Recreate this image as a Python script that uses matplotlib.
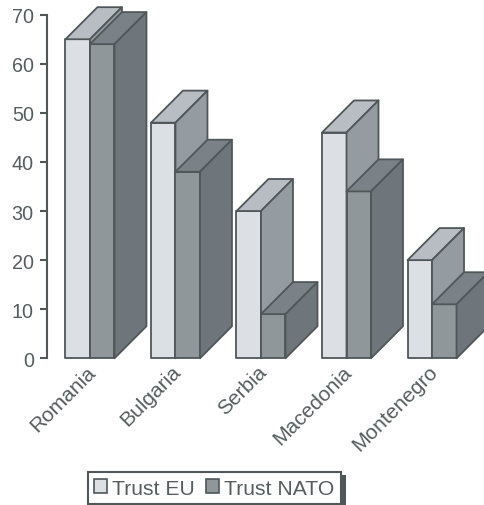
import matplotlib
matplotlib.use("Agg")
import matplotlib.pyplot as plt
from matplotlib.patches import Patch, Rectangle
from matplotlib.transforms import ScaledTranslation

countries = ["Romania", "Bulgaria", "Serbia", "Macedonia", "Montenegro"]
trust_eu = [65, 48, 30, 46, 20]
trust_nato = [64, 38, 9, 34, 11]
y_ticks = [0, 10, 20, 30, 40, 50, 60, 70]

INK = "#4f5759"
TEXT = "#565d5f"
EU_COLORS = ("#dcdfe4", "#b8bdc4", "#949ca1")    # front, top, side
NATO_COLORS = ("#8f979b", "#7a8287", "#6e757b")

BAR_W = 0.2865
DEPTH_X = 0.374
DEPTH_Y = 6.53

plt.rcParams["font.family"] = ["Liberation Sans", "DejaVu Sans"]

W, H = 485, 506
fig = plt.figure(figsize=(W / 100, H / 100), dpi=100)
ax = fig.add_axes([47 / W, 1 - 359.3 / H, (W - 47) / W, 343.6 / H])
ax.set_xlim(-0.216, 4.906)
ax.set_ylim(0, 70)


def draw_box(x, value, colors, z):
    # side first, then top and front, so shared edges stay clean
    side = [(x + BAR_W, 0), (x + BAR_W + DEPTH_X, DEPTH_Y),
            (x + BAR_W + DEPTH_X, value + DEPTH_Y), (x + BAR_W, value)]
    top = [(x, value), (x + DEPTH_X, value + DEPTH_Y),
           (x + BAR_W + DEPTH_X, value + DEPTH_Y), (x + BAR_W, value)]
    front = [(x, 0), (x + BAR_W, 0), (x + BAR_W, value), (x, value)]
    for pts, col in zip((front, top, side), colors):
        ax.fill(*zip(*pts), facecolor=col, edgecolor=INK, linewidth=1.3,
                joinstyle="round", clip_on=False, zorder=z)


for i in range(len(countries)):
    draw_box(i, trust_eu[i], EU_COLORS, 3 + i * 2)
    draw_box(i + BAR_W, trust_nato[i], NATO_COLORS, 4 + i * 2)

for side in ("top", "right", "bottom"):
    ax.spines[side].set_visible(False)
ax.spines["left"].set_color(INK)
ax.spines["left"].set_linewidth(1.5)
ax.spines["left"].set_bounds(0, 70)

ax.set_yticks(y_ticks)
ax.tick_params(axis="y", length=5, width=1.5, color=INK, labelcolor=TEXT,
               labelsize=14.2, pad=4.5)
ax.set_xticks([i + BAR_W for i in range(len(countries))])
ax.set_xticklabels(countries, rotation=45, ha="right", rotation_mode="anchor",
                   color=TEXT, fontsize=15)
ax.tick_params(axis="x", length=0, pad=2.5)
# nudge the slanted labels towards the bars
nudge = ScaledTranslation(-3.2 / 72, 0, fig.dpi_scale_trans)
for lab in ax.get_xticklabels():
    lab.set_transform(lab.get_transform() + nudge)

# legend box with a hard offset shadow on its right edge
fig.add_artist(Rectangle((92 / W, 0), 254 / W, 1 - 476 / H, transform=fig.transFigure,
                         facecolor=INK, edgecolor="none", zorder=8))
handles = [Patch(facecolor=EU_COLORS[0], edgecolor=INK, linewidth=1.2, label="Trust EU"),
           Patch(facecolor=NATO_COLORS[0], edgecolor=INK, linewidth=1.2, label="Trust NATO")]
leg = fig.legend(handles=handles, ncol=2, loc="lower left",
                 bbox_to_anchor=(88 / W, 1 - 505 / H), bbox_transform=fig.transFigure,
                 frameon=True, fancybox=False, framealpha=1, facecolor="white",
                 edgecolor=INK, fontsize=15.2, labelcolor=TEXT, borderaxespad=0,
                 handlelength=0.62, handleheight=0.62, handletextpad=0.24,
                 columnspacing=0.5, borderpad=0.3)
leg.get_frame().set_linewidth(1.5)
leg.set_zorder(9)

fig.savefig("out.png", dpi=100)
